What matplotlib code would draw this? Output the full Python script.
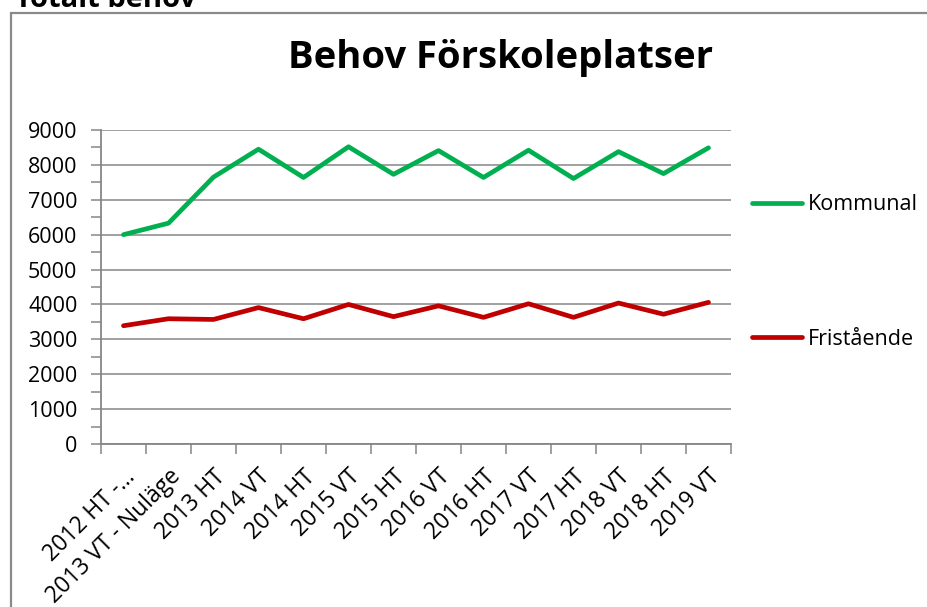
import matplotlib
matplotlib.use("Agg")
import matplotlib.pyplot as plt
import numpy as np
from matplotlib.patches import Rectangle
from matplotlib.ticker import MultipleLocator, FixedLocator

plt.rcParams['font.family'] = ['Open Sans', 'DejaVu Sans']

categories = ["2012 HT -…", "2013 VT - Nuläge", "2013 HT", "2014 VT", "2014 HT",
              "2015 VT", "2015 HT", "2016 VT", "2016 HT", "2017 VT", "2017 HT",
              "2018 VT", "2018 HT", "2019 VT"]
kommunal = [6000, 6330, 7650, 8450, 7640, 8520, 7730, 8410, 7640, 8420, 7610, 8380, 7750, 8490]
fristaende = [3390, 3590, 3570, 3910, 3590, 4000, 3650, 3960, 3630, 4020, 3630, 4040, 3720, 4060]
series_names = ["Kommunal", "Fristående"]
y_ticks = [0, 1000, 2000, 3000, 4000, 5000, 6000, 7000, 8000, 9000]

GRAY = "#868686"
fig = plt.figure(figsize=(9.27, 6.07), dpi=100)
ax = fig.add_axes([101/927, 1 - 444/607, 630/927, 314/607])

x = np.arange(len(categories))
ax.plot(x, kommunal, color="#00B050", lw=3.4, solid_capstyle='round', label=series_names[0], zorder=3)
ax.plot(x, fristaende, color="#C00000", lw=3.4, solid_capstyle='round', label=series_names[1], zorder=3)

ax.set_xlim(-0.5, len(categories) - 0.5)
ax.set_ylim(0, 9000)
ax.set_yticks(y_ticks)
ax.set_yticklabels([str(v) for v in y_ticks])
ax.yaxis.set_minor_locator(MultipleLocator(500))
ax.grid(axis='y', which='major', color=GRAY, lw=1.1, zorder=0)
ax.set_axisbelow(True)

ax.set_xticks(x)
ax.set_xticklabels(categories, rotation=45, ha='right', va='top', rotation_mode='anchor')
ax.xaxis.set_minor_locator(FixedLocator(np.arange(-0.5, len(categories), 1.0)))
ax.tick_params(axis='x', which='major', length=0, pad=15, labelsize=16.5, labelcolor='black')
ax.tick_params(axis='x', which='minor', length=7, width=1.1, color=GRAY, direction='out')
ax.tick_params(axis='y', which='major', length=7, width=1.1, color=GRAY, pad=10, labelsize=15.5, labelcolor='black')
ax.tick_params(axis='y', which='minor', length=7, width=1.1, color=GRAY)

for s in ['top', 'right']:
    ax.spines[s].set_visible(False)
for s in ['left', 'bottom']:
    ax.spines[s].set_color(GRAY)
    ax.spines[s].set_linewidth(1.3)

leg = ax.legend(loc='center left', bbox_to_anchor=(752/927, 1 - 272/607),
                bbox_transform=fig.transFigure, frameon=False, fontsize=15.5,
                handlelength=2.3, handletextpad=0.3, labelspacing=5.25,
                borderpad=0, borderaxespad=0)

fig.text(501/927, 1 - 68/607, "Behov Förskoleplatser", ha='center', va='baseline',
         fontsize=27.5, fontweight='bold')
fig.text(15/927, 1 - 7/607, "Totalt behov", ha='left', va='baseline',
         fontsize=21, fontweight='bold')

fig.add_artist(Rectangle((11/927, -0.05), 1.2, 1 - 13/607 + 0.05, transform=fig.transFigure,
                         fill=False, edgecolor="#8a8a8a", lw=1.6, clip_on=False))

fig.savefig("out.png", dpi=100)
